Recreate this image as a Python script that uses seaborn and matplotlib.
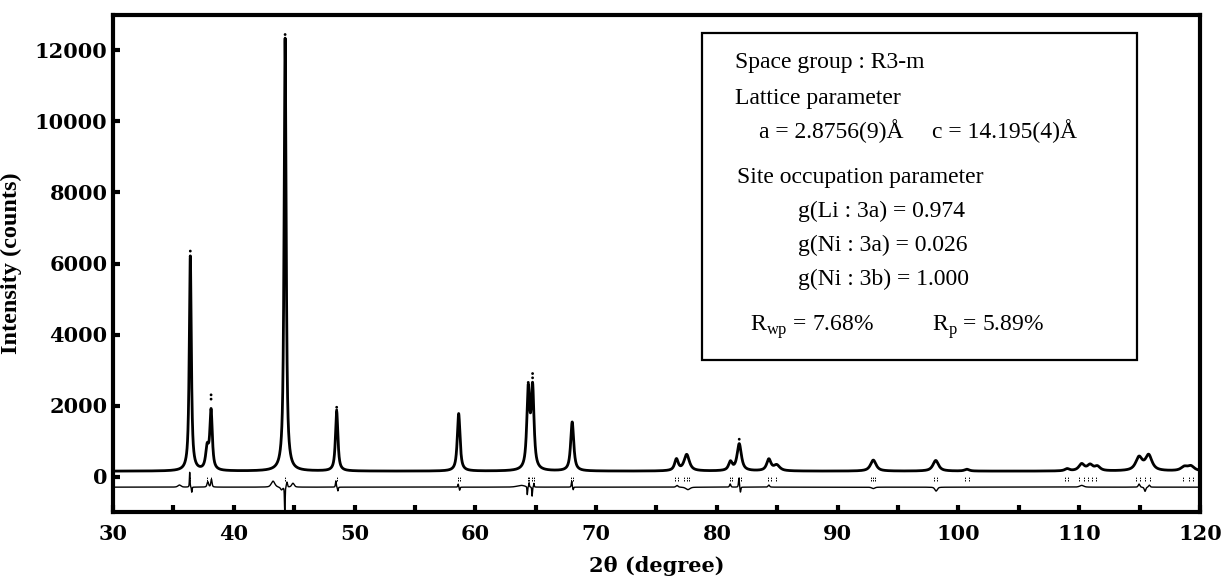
import numpy as np
import pandas as pd
import matplotlib
matplotlib.use("Agg")
import matplotlib.pyplot as plt
from matplotlib.patches import Rectangle
import seaborn as sns

# ---------------- data ----------------
# observed/calculated pattern: reflection list (2theta, net height in counts, FWHM in deg)
peak_pos = [36.40, 37.80, 38.12, 44.25, 48.52, 58.62, 64.38, 64.74, 68.02,
            76.65, 77.50, 81.12, 81.85, 84.30, 84.95, 92.95, 98.12, 100.70,
            109.00, 110.20, 110.90, 111.50, 114.95, 115.75, 118.70, 119.25]
peak_height = [6050, 600, 1650, 12200, 1680, 1620, 2200, 2250, 1380,
               320, 460, 240, 760, 320, 160, 310, 300, 50,
               60, 190, 160, 120, 370, 430, 110, 130]
peak_fwhm = [0.20, 0.30, 0.24, 0.20, 0.24, 0.27, 0.28, 0.28, 0.30,
             0.36, 0.52, 0.36, 0.42, 0.42, 0.60, 0.55, 0.55, 0.45,
             0.45, 0.55, 0.55, 0.55, 0.65, 0.65, 0.65, 0.65]
background = 150

# observed points standing above the fitted line at peak tops
obs_top_x = [36.40, 36.40, 38.12, 38.12, 44.25, 48.52, 48.52, 64.38, 64.74, 64.74, 81.85]
obs_top_y = [6350, 6200, 2300, 2180, 12450, 1950, 1870, 2650, 2900, 2780, 1050]

# difference curve (obs - calc): offset and local features (2theta, amplitude, width)
diff_offset = -300
diff_pos = [35.50, 36.35, 36.52, 37.85, 38.15, 43.25, 43.95, 44.22, 44.40, 44.90,
            48.45, 48.62, 58.58, 58.70, 63.80, 64.30, 64.45, 64.70, 64.85,
            67.98, 68.10, 76.70, 77.60, 81.10, 81.82, 81.95, 84.30, 92.95, 98.15,
            110.20, 114.95, 115.45, 115.80]
diff_amp = [60, 420, -150, 150, 220, 170, -80, -720, 150, 110,
            180, -110, 90, -90, 50, -230, 120, -260, 110,
            170, -80, 50, -70, 90, 260, -150, 60, -40, -110,
            50, 90, -120, 60]
diff_fwhm = [0.30, 0.06, 0.06, 0.15, 0.12, 0.35, 0.20, 0.06, 0.10, 0.25,
             0.08, 0.08, 0.08, 0.08, 0.80, 0.06, 0.06, 0.06, 0.06,
             0.08, 0.08, 0.20, 0.40, 0.12, 0.08, 0.08, 0.15, 0.30, 0.25,
             0.40, 0.15, 0.15, 0.15]

# Bragg reflection markers
bragg_pos = [36.40, 37.80, 38.12, 44.25, 48.52, 58.55, 58.70, 64.32, 64.48, 64.70, 64.86,
             67.95, 68.10, 76.55, 76.75, 77.30, 77.50, 77.70, 81.05, 81.25, 81.80, 82.00,
             84.20, 84.50, 84.90, 92.80, 92.95, 93.10, 97.95, 98.25, 100.55, 100.85,
             108.85, 109.10, 110.00, 110.40, 110.75, 111.05, 111.40, 114.70, 115.05,
             115.45, 115.85, 118.60, 119.05, 119.45]
bragg_top, bragg_bottom = -10, -140

x_ticks = [30, 40, 50, 60, 70, 80, 90, 100, 110, 120]
x_minor = [35, 45, 55, 65, 75, 85, 95, 105, 115]
y_ticks = [0, 2000, 4000, 6000, 8000, 10000, 12000]

x_label = "2\u03b8 (degree)"
y_label = "Intensity (counts)"

info_lines = [
    ("Space group : R3-m", 735, 68),
    ("Lattice parameter", 735, 104),
    ("a = 2.8756(9)\u00c5", 759, 138),
    ("c = 14.195(4)\u00c5", 932, 138),
    ("Site occupation parameter", 737, 183),
    ("g(Li : 3a) = 0.974", 798, 217),
    ("g(Ni : 3a) = 0.026", 798, 251),
    ("g(Ni : 3b) = 1.000", 798, 285),
    ("R$_{\\mathregular{wp}}$ = 7.68%", 750, 331),
    ("R$_{\\mathregular{p}}$ = 5.89%", 932, 331),
]

# ---------------- build curves ----------------
def pv(x, c, h, w, eta=0.85):
    hw = w / 2.0
    lor = 1.0 / (1.0 + ((x - c) / hw) ** 2)
    gau = np.exp(-np.log(2) * ((x - c) / hw) ** 2)
    return h * (eta * lor + (1 - eta) * gau)

two_theta = np.arange(30.0, 120.0001, 0.004)
calc = np.full_like(two_theta, float(background))
for c, h, w in zip(peak_pos, peak_height, peak_fwhm):
    calc += pv(two_theta, c, h, w)
diff = np.full_like(two_theta, float(diff_offset))
for c, a, w in zip(diff_pos, diff_amp, diff_fwhm):
    diff += pv(two_theta, c, a, w, eta=0.5)

df = pd.DataFrame({"two_theta": two_theta, "calc": calc, "diff": diff})
obs_df = pd.DataFrame({"x": obs_top_x, "y": obs_top_y})

# ---------------- plot ----------------
sns.set_theme(style="white")
plt.rcParams["font.family"] = ["DejaVu Serif"]
plt.rcParams["mathtext.fontset"] = "custom"
plt.rcParams["mathtext.rm"] = "Liberation Serif"

W, H = 1221, 576
fig = plt.figure(figsize=(W / 100, H / 100), dpi=100)
ax = fig.add_axes([113 / W, 1 - 512 / H, (1200 - 113) / W, (512 - 15) / H])

sns.lineplot(data=df, x="two_theta", y="calc", color="black", linewidth=2.0,
             estimator=None, sort=False, ax=ax)
sns.lineplot(data=df, x="two_theta", y="diff", color="black", linewidth=1.0,
             estimator=None, sort=False, ax=ax)
sns.scatterplot(data=obs_df, x="x", y="y", color="black", s=4, marker="o",
                edgecolor="none", ax=ax)
ax.vlines(bragg_pos, bragg_bottom, bragg_top, colors="black", linewidth=0.7,
          linestyles=(0, (1.5, 1.0)))

ax.set_xlim(30, 120)
ax.set_ylim(-1000, 13000)
ax.set_xticks(x_ticks)
ax.set_xticks(x_minor, minor=True)
ax.set_yticks(y_ticks)
ax.set_xticklabels([str(t) for t in x_ticks])
ax.set_yticklabels([str(t) for t in y_ticks])

for s in ax.spines.values():
    s.set_visible(True)
    s.set_linewidth(3.0)
    s.set_color("black")

ax.tick_params(axis="x", which="both", direction="in", length=5, width=3,
               pad=9, labelsize=15, colors="black", bottom=True, top=False)
ax.tick_params(axis="y", which="major", direction="in", length=5, width=3,
               pad=4, labelsize=15, colors="black", left=True, right=False)
for lab in ax.get_xticklabels() + ax.get_yticklabels():
    lab.set_fontweight("bold")
    lab.set_family("DejaVu Serif")

ax.set_xlabel(x_label, fontsize=15, fontweight="bold", family="DejaVu Serif",
              labelpad=8, color="black")
ax.set_ylabel(y_label, fontsize=17.5, fontweight="bold", family="Liberation Serif",
              labelpad=9, color="black")

# info box
box_x0, box_y0, box_x1, box_y1 = 702, 33, 1137, 360
fig.patches.append(Rectangle((box_x0 / W, 1 - box_y1 / H), (box_x1 - box_x0) / W,
                             (box_y1 - box_y0) / H, transform=fig.transFigure,
                             fill=False, edgecolor="black", linewidth=1.6, zorder=5))
for txt, px, py in info_lines:
    fig.text(px / W, 1 - py / H, txt, fontsize=17, family="Liberation Serif",
             ha="left", va="baseline", color="black")

fig.savefig("out.png", dpi=100)
